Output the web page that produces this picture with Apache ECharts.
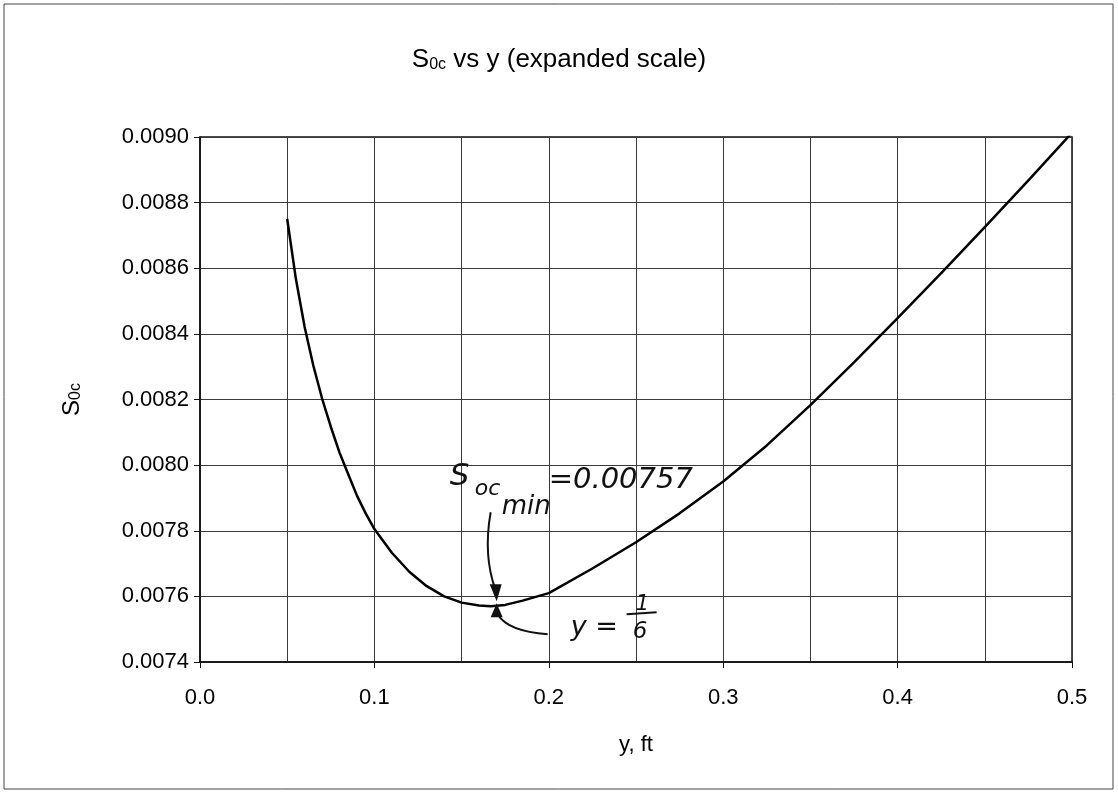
<!DOCTYPE html>
<html>
<head>
<meta charset="utf-8">
<title>S0c vs y</title>
<script src="https://cdn.jsdelivr.net/npm/echarts@6/dist/echarts.min.js"></script>
<style>
  html, body { margin: 0; padding: 0; background: #ffffff; }
  #chart { width: 1118px; height: 793px; }
</style>
</head>
<body>
<div id="chart"></div>
<script>
// Flow depth y (ft) and the corresponding critical slope S0c
const yValues = [
  0.050, 0.055, 0.060, 0.065, 0.070, 0.075, 0.080, 0.085, 0.090, 0.095,
  0.100, 0.110, 0.120, 0.130, 0.140, 0.150, 0.160, 1 / 6, 0.175, 0.185,
  0.200, 0.225, 0.250, 0.275, 0.300, 0.325, 0.350, 0.375, 0.400, 0.425,
  0.450, 0.475, 0.500
];
const s0cValues = [
  0.008750, 0.008567, 0.008421, 0.008303, 0.008203, 0.008117, 0.008038, 0.007972, 0.007907, 0.007853,
  0.007805, 0.007733, 0.007675, 0.007631, 0.007600, 0.007581, 0.007572, 0.007570, 0.007574, 0.007587,
  0.007610, 0.007685, 0.007765, 0.007853, 0.007950, 0.008060, 0.008183, 0.008313, 0.008448, 0.008585,
  0.008725, 0.008868, 0.009013
];

// Minimum point called out by the hand-written note
const minY = 1 / 6;
const minS = 0.00757;

// Axis ranges and tick spacing
const xMin = 0, xMax = 0.5, xStep = 0.1;
const yMin = 0.0074, yMax = 0.0090, yStep = 0.0002;

const chart = echarts.init(document.getElementById('chart'));
const points = yValues.map((v, i) => [v, s0cValues[i]]);

const gridColor = '#3a3a3a';
const font = 'Liberation Sans, Arial, sans-serif';

chart.setOption({
  backgroundColor: '#ffffff',
  animation: false,
  title: {
    text: '{a|S}{b|0c}{a| vs y (expanded scale)}',
    left: 'center',
    top: 36,
    textStyle: {
      fontWeight: 'normal',
      rich: {
        a: { fontFamily: font, fontSize: 26, fontWeight: 'normal', color: '#000', verticalAlign: 'bottom', lineHeight: 32 },
        b: { fontFamily: font, fontSize: 16, fontWeight: 'normal', color: '#000', verticalAlign: 'bottom', lineHeight: 23 }
      }
    }
  },
  grid: {
    left: 200, right: 46, top: 137, bottom: 131,
    show: true, borderColor: '#111', borderWidth: 1.5
  },
  xAxis: {
    type: 'value',
    min: xMin, max: xMax, interval: xStep,
    name: 'y, ft',
    nameLocation: 'middle',
    nameGap: 72,
    nameTextStyle: { fontFamily: font, fontSize: 22, color: '#000' },
    axisLine: { show: true, lineStyle: { color: '#111', width: 1.5 } },
    axisTick: { show: true, inside: false, length: 6, lineStyle: { color: '#111' } },
    axisLabel: {
      margin: 25, fontFamily: font, fontSize: 22, color: '#000',
      formatter: v => v.toFixed(1)
    },
    splitLine: { show: true, lineStyle: { color: gridColor, width: 1 } },
    minorTick: { show: false, splitNumber: 2 },
    minorSplitLine: { show: true, lineStyle: { color: gridColor, width: 1 } }
  },
  yAxis: {
    type: 'value',
    min: yMin, max: yMax, interval: yStep,
    name: '{a|S}{b|0c}',
    nameLocation: 'middle',
    nameRotate: 90,
    nameGap: 116,
    nameTextStyle: {
      rich: {
        a: { fontFamily: font, fontSize: 24, color: '#000', verticalAlign: 'bottom', lineHeight: 28 },
        b: { fontFamily: font, fontSize: 16, color: '#000', verticalAlign: 'bottom', lineHeight: 22 }
      }
    },
    axisLine: { show: true, lineStyle: { color: '#111', width: 1.5 } },
    axisTick: { show: true, inside: false, length: 6, lineStyle: { color: '#111' } },
    axisLabel: {
      margin: 11, fontFamily: font, fontSize: 22, color: '#000',
      formatter: v => v.toFixed(4)
    },
    splitLine: { show: true, lineStyle: { color: gridColor, width: 1 } }
  },
  series: [{
    type: 'line',
    data: points,
    showSymbol: false,
    smooth: false,
    lineStyle: { color: '#000', width: 2.5, join: 'round' },
    z: 5
  }]
});

// Hand-written note and arrows, anchored to the minimum point
const tip = chart.convertToPixel({ gridIndex: 0 }, [minY, minS]);
const tx = tip[0], ty = tip[1];
const hand = 'DejaVu Sans, Liberation Sans, sans-serif';
const ink = '#111';

function txt(x, y, s, size) {
  return {
    type: 'text', x: tx + x, y: ty + y, z: 20,
    style: { text: s, fontFamily: hand, fontStyle: 'italic', fontSize: size, fill: ink, textVerticalAlign: 'top' }
  };
}

chart.setOption({
  graphic: [
    // outer frame
    {
      type: 'rect', z: 1,
      shape: { x: 4, y: 4, width: 1109, height: 785 },
      style: { fill: 'none', stroke: '#444', lineWidth: 1 }
    },
    txt(-41, -145, 'S', 31),
    txt(-16, -128, 'oc', 22),
    txt(11, -112, 'min', 26),
    txt(58, -140, '=0.00757', 29),
    // arrow from the note down to the minimum
    {
      type: 'bezierCurve', z: 20,
      shape: { x1: tx, y1: ty - 94, cpx1: tx - 6, cpy1: ty - 60, cpx2: tx - 2, cpy2: ty - 35, x2: tx + 5, y2: ty - 16 },
      style: { stroke: ink, lineWidth: 2, fill: 'none' }
    },
    {
      type: 'polygon', z: 20,
      shape: { points: [[tx - 1, ty - 22], [tx + 11, ty - 22], [tx + 6, ty - 5]] },
      style: { fill: ink }
    },
    // arrow from "y = 1/6" up to the minimum
    {
      type: 'bezierCurve', z: 20,
      shape: { x1: tx + 57, y1: ty + 28, cpx1: tx + 30, cpy1: ty + 26, cpx2: tx + 14, cpy2: ty + 20, x2: tx + 7, y2: ty + 8 },
      style: { stroke: ink, lineWidth: 2, fill: 'none' }
    },
    {
      type: 'polygon', z: 20,
      shape: { points: [[tx, ty + 11], [tx + 12, ty + 11], [tx + 6, ty - 3]] },
      style: { fill: ink }
    },
    txt(80, 8, 'y =', 27),
    txt(145, -12, '1', 21),
    {
      type: 'line', z: 20,
      shape: { x1: tx + 136, y1: ty + 8, x2: tx + 166, y2: ty + 6 },
      style: { stroke: ink, lineWidth: 2 }
    },
    txt(142, 14, '6', 23)
  ]
});
</script>
</body>
</html>
